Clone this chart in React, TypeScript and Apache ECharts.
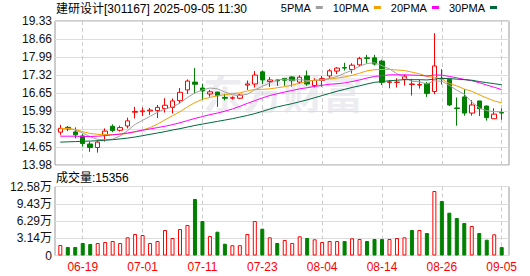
import React, { useEffect, useRef } from 'react';
import * as echarts from 'echarts';

const dates = ['06-16','06-17','06-18','06-19','06-20','06-23','06-24','06-25','06-26','06-27','06-30','07-01','07-02','07-03','07-04','07-07','07-08','07-09','07-10','07-11','07-14','07-15','07-16','07-17','07-18','07-21','07-22','07-23','07-24','07-25','07-28','07-29','07-30','07-31','08-01','08-04','08-05','08-06','08-07','08-08','08-11','08-12','08-13','08-14','08-15','08-18','08-19','08-20','08-21','08-22','08-25','08-26','08-27','08-28','08-29','09-01','09-02','09-03','09-04','09-05'];

const open = [15.20,15.38,15.21,15.06,14.76,14.63,15.10,15.42,15.27,15.43,15.94,15.96,15.99,16.00,16.08,16.12,16.37,16.77,17.06,16.84,16.62,16.69,16.49,16.46,16.46,16.95,16.99,17.44,17.08,17.14,17.20,17.25,17.06,17.29,16.93,17.12,17.29,17.47,17.60,17.53,17.70,17.96,17.96,17.84,17.05,17.05,17.16,16.97,16.95,17.01,16.71,17.18,17.16,16.10,16.51,15.91,16.36,16.17,15.70,15.93];
const close = [15.34,15.32,15.10,14.78,14.63,14.83,15.24,15.26,15.37,15.62,15.97,15.99,16.02,16.12,16.20,16.36,16.68,17.10,16.98,16.73,16.70,16.56,16.46,16.48,16.58,16.99,17.32,17.14,17.14,17.11,17.13,17.11,17.24,16.99,17.12,17.19,17.48,17.58,17.58,17.69,17.94,17.94,17.73,17.05,17.07,17.06,17.28,16.99,16.97,16.64,17.66,17.20,16.21,16.08,15.91,16.21,16.07,15.74,15.87,15.91];
const low = [15.10,15.24,14.97,14.66,14.47,14.44,14.85,15.20,15.22,15.34,15.71,15.80,15.84,15.72,15.93,15.90,16.27,16.62,16.64,16.40,16.52,16.14,16.38,16.41,16.43,16.77,16.86,16.99,16.88,16.92,16.92,16.89,16.99,16.92,16.86,16.89,17.20,17.36,17.49,17.38,17.64,17.76,17.68,16.95,16.83,16.86,16.93,16.56,16.82,16.51,16.61,16.97,16.17,15.44,15.81,15.81,15.80,15.63,15.70,15.66];
const high = [15.47,15.43,15.38,15.13,14.85,14.90,15.34,15.49,15.44,15.74,16.14,16.12,16.10,16.21,16.46,16.45,16.84,17.16,17.58,17.00,16.77,16.70,16.62,16.53,16.62,17.12,17.47,17.49,17.25,17.18,17.21,17.28,17.31,17.49,17.20,17.29,17.55,17.62,17.78,17.76,18.00,18.07,18.07,17.89,17.14,17.20,17.34,17.18,17.15,17.06,18.88,17.54,17.19,16.49,16.80,16.39,16.36,16.19,16.09,16.08];

const ma5 = [15.32,15.33,15.28,15.17,15.03,14.93,14.92,14.94,15.06,15.26,15.49,15.64,15.79,15.94,16.06,16.14,16.28,16.49,16.66,16.77,16.84,16.81,16.69,16.59,16.56,16.61,16.77,16.90,17.03,17.14,17.17,17.13,17.15,17.12,17.12,17.13,17.20,17.27,17.39,17.50,17.65,17.75,17.78,17.67,17.55,17.37,17.24,17.09,17.07,16.99,17.11,17.09,16.94,16.76,16.61,16.32,16.10,16.00,15.96,15.96];
const ma10 = [15.33,15.34,15.30,15.22,15.15,15.12,15.11,15.11,15.12,15.15,15.21,15.28,15.37,15.50,15.66,15.81,15.96,16.14,16.30,16.42,16.49,16.55,16.59,16.63,16.66,16.73,16.79,16.79,16.81,16.85,16.89,16.95,17.02,17.08,17.13,17.15,17.17,17.21,17.25,17.31,17.39,17.48,17.52,17.53,17.53,17.51,17.49,17.43,17.37,17.27,17.24,17.17,17.01,16.92,16.80,16.72,16.59,16.47,16.36,16.29];
const ma20 = [15.05,15.05,15.05,15.04,15.04,15.05,15.07,15.10,15.13,15.17,15.22,15.27,15.32,15.37,15.42,15.48,15.55,15.63,15.71,15.78,15.85,15.91,15.98,16.06,16.16,16.27,16.37,16.47,16.56,16.63,16.69,16.75,16.81,16.85,16.90,16.94,16.98,17.00,17.03,17.08,17.14,17.21,17.27,17.30,17.33,17.33,17.33,17.32,17.31,17.29,17.32,17.32,17.27,17.22,17.16,17.11,17.04,16.95,16.87,16.78];
const ma30 = [14.83,14.84,14.85,14.86,14.87,14.88,14.90,14.92,14.95,14.98,15.02,15.07,15.12,15.17,15.22,15.28,15.33,15.39,15.45,15.50,15.55,15.60,15.65,15.70,15.76,15.82,15.89,15.97,16.06,16.14,16.20,16.26,16.33,16.40,16.48,16.56,16.64,16.72,16.79,16.86,16.92,16.99,17.05,17.08,17.11,17.13,17.15,17.15,17.15,17.14,17.17,17.20,17.19,17.17,17.15,17.13,17.08,17.04,17.00,16.96];

const volume = [19140,15500,15500,22790,20960,22790,24610,26430,22790,33180,39190,37370,22790,26430,46490,31900,48310,55600,103000,62890,35550,43390,21510,18780,18780,39190,62890,48860,33180,22790,28260,22790,35000,31900,29530,24610,26430,26430,26430,31360,30080,26430,30080,30080,30080,31900,33180,46490,46490,41020,117580,99350,78020,68360,59250,53780,41020,28800,38650,15356];
const volumeUp = [1,0,0,0,0,1,1,1,1,1,1,1,1,1,1,1,1,1,0,0,1,0,0,1,1,1,1,0,1,0,1,1,1,0,1,1,1,1,0,1,1,0,0,0,1,1,1,0,1,0,1,0,0,0,0,1,0,0,1,0];

const priceTicks = ['13.98','14.65','15.32','15.99','16.65','17.32','17.99','18.66','19.33'];
const volumeTicks = ['0','3.14万','6.29万','9.43万','12.58万'];
const maNames = ['5PMA','10PMA','20PMA','30PMA'];
const maColors = ['#a0a0a0','#f4a000','#ff00ff','#00693c'];

const PRICE_MIN = 13.98;
const PRICE_MAX = 19.33;
const PRICE_STEP = (PRICE_MAX - PRICE_MIN) / 8;
const VOL_MAX = 125800;
const VOL_STEP = VOL_MAX / 4;

const RED = '#ff0000';
const GREEN = '#008000';
const FONT = '"Liberation Sans", Arial, "Noto Sans CJK SC", sans-serif';

export default function App() {
  const ref = useRef<HTMLDivElement>(null);
  useEffect(() => {
    if (!ref.current) return;
    const chart = echarts.init(ref.current, undefined, { renderer: 'svg' });
    const labelInterval = (i: number) => i >= 3 && (i - 3) % 8 === 0;
    const vSplit = { show: true, interval: labelInterval, lineStyle: { color: '#cccccc', type: [4, 3] as any, width: 1 } };
    const mas = [ma5, ma10, ma20, ma30];
    const option: any = {
      animation: false,
      backgroundColor: '#ffffff',
      textStyle: { fontFamily: FONT },
      title: [
        { text: '建研设计[301167] 2025-09-05 11:30', left: 56, top: 3, padding: 0,
          textStyle: { fontSize: 12, fontWeight: 'normal', color: '#000', fontFamily: FONT } },
        { text: '成交量:' + volume[volume.length - 1], left: 56, top: 172, padding: 0,
          textStyle: { fontSize: 12, fontWeight: 'normal', color: '#000', fontFamily: FONT } },
      ],
      legend: {
        data: maNames, right: 33, top: 2, align: 'right', icon: 'rect', itemWidth: 7, itemHeight: 3,
        itemGap: 10, padding: 0, selectedMode: false,
        textStyle: { fontSize: 11, color: '#000', fontFamily: '"Liberation Sans Narrow", "Liberation Sans", Arial, sans-serif' },
      },
      graphic: [
        { type: 'text', left: 203, top: 72, z: 0, silent: true,
          style: { text: '东方财富', font: 'bold 40px "Noto Sans CJK SC"', fill: 'rgba(200,200,215,0.35)' } },
      ],
      grid: [
        { left: 55, right: 21, top: 21, height: 144, show: true, borderColor: '#999', borderWidth: 1, backgroundColor: 'transparent' },
        { left: 60.3, right: 28.3, top: 21, height: 144 },
        { left: 55, right: 21, top: 186.5, height: 69, show: true, borderColor: '#999', borderWidth: 1, backgroundColor: 'transparent' },
        { left: 60.3, right: 28.3, top: 186.5, height: 69 },
      ],
      xAxis: [
        { type: 'value', gridIndex: 0, min: 0, max: 1, show: false },
        { type: 'category', gridIndex: 1, data: dates, boundaryGap: false,
          axisLine: { show: false }, axisTick: { show: false }, axisLabel: { show: false }, splitLine: vSplit },
        { type: 'value', gridIndex: 2, min: 0, max: 1, show: false },
        { type: 'category', gridIndex: 3, data: dates, boundaryGap: false,
          axisLine: { show: false }, axisTick: { show: false },
          axisLabel: { show: true, interval: labelInterval, color: RED, fontSize: 12, margin: 5, fontFamily: FONT },
          splitLine: vSplit },
      ],
      yAxis: [
        { type: 'value', gridIndex: 0, min: PRICE_MIN, max: PRICE_MAX, interval: PRICE_STEP,
          axisLine: { show: false }, axisTick: { show: false },
          axisLabel: { color: '#111', fontSize: 12, margin: 3, fontFamily: FONT,
            formatter: (v: number) => priceTicks[Math.round((v - PRICE_MIN) / PRICE_STEP)] ?? '' },
          splitLine: { show: true, lineStyle: { color: '#dddddd', width: 1 } } },
        { type: 'value', gridIndex: 1, min: PRICE_MIN, max: PRICE_MAX, show: false },
        { type: 'value', gridIndex: 2, min: 0, max: VOL_MAX, interval: VOL_STEP,
          axisLine: { show: false }, axisTick: { show: false },
          axisLabel: { color: '#111', fontSize: 12, margin: 3, fontFamily: FONT,
            formatter: (v: number) => volumeTicks[Math.round(v / VOL_STEP)] ?? '' },
          splitLine: { show: true, lineStyle: { color: '#dddddd', width: 1 } } },
        { type: 'value', gridIndex: 3, min: 0, max: VOL_MAX, show: false },
      ],
      series: [
        { type: 'candlestick', name: 'K', xAxisIndex: 1, yAxisIndex: 1, barWidth: 5, clip: false,
          data: dates.map((_, i) => [open[i], close[i], low[i], high[i]]),
          itemStyle: { color: '#ffffff', color0: GREEN, borderColor: RED, borderColor0: GREEN, borderWidth: 1 } },
        ...mas.map((d, k) => ({
          type: 'line', name: maNames[k], xAxisIndex: 1, yAxisIndex: 1, data: d, color: maColors[k],
          showSymbol: false, symbol: 'none', clip: false, lineStyle: { width: 1, color: maColors[k] },
          itemStyle: { color: maColors[k] },
        })),
        { type: 'bar', name: 'VOL', xAxisIndex: 3, yAxisIndex: 3, barWidth: 4, clip: false,
          data: volume.map((v, i) => ({
            value: v,
            itemStyle: volumeUp[i]
              ? { color: '#ffffff', borderColor: RED, borderWidth: 1 }
              : { color: GREEN, borderColor: GREEN, borderWidth: 1 },
          })) },
      ],
    };
    chart.setOption(option);
    return () => chart.dispose();
  }, []);
  return <div ref={ref} style={{ position: 'fixed', left: 0, top: 0, width: 530, height: 276 }} />;
}
